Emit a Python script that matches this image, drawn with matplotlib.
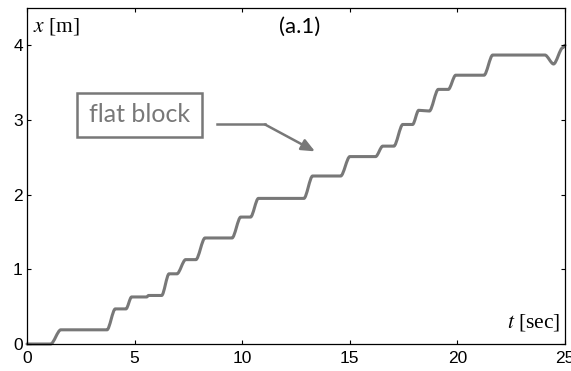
import matplotlib
matplotlib.use("Agg")
import matplotlib.pyplot as plt
from matplotlib.patches import Rectangle, PathPatch
from matplotlib.path import Path

# --- data (t in sec, x in m) ---
t_pts = [0, 1.1, 1.57, 3.72, 4.1, 4.6, 4.86, 5.56, 5.65, 6.26, 6.6, 6.97, 7.37,
         7.85, 8.27, 9.53, 9.93, 10.39, 10.75, 12.87, 13.27, 14.58, 15.0, 16.2,
         16.53, 17.05, 17.46, 17.92, 18.2, 18.7, 19.11, 19.58, 19.92, 21.24,
         21.64, 24.07, 24.47, 24.9, 25.0]
x_pts = [0, 0, 0.19, 0.19, 0.47, 0.47, 0.63, 0.63, 0.65, 0.65, 0.94, 0.94, 1.13,
         1.13, 1.42, 1.42, 1.70, 1.70, 1.95, 1.95, 2.25, 2.25, 2.51, 2.51,
         2.65, 2.65, 2.94, 2.94, 3.13, 3.12, 3.41, 3.41, 3.60, 3.60,
         3.87, 3.87, 3.75, 3.97, 4.0]

xticks = [0, 5, 10, 15, 20, 25]
yticks = [0, 1, 2, 3, 4]

grey = "#787878"

fig = plt.figure(figsize=(5.71, 3.71), dpi=100)
ax = fig.add_axes([27/571, 27/371, 538/571, 336/371])

# draw the trajectory as smooth steps (cubic bezier between points,
# flat tangents at every point -> rounded corners)
verts = [(t_pts[0], x_pts[0])]
codes = [Path.MOVETO]
for i in range(1, len(t_pts)):
    t0, x0 = t_pts[i-1], x_pts[i-1]
    t1, x1 = t_pts[i], x_pts[i]
    d = 0.3 * (t1 - t0)
    verts += [(t0 + d, x0), (t1 - d, x1), (t1, x1)]
    codes += [Path.CURVE4] * 3
ax.add_patch(PathPatch(Path(verts, codes), fill=False, ec=grey, lw=2.2,
                       joinstyle="round", capstyle="round", clip_on=False))

ax.set_xlim(0, 25)
ax.set_ylim(0, 4.5)
ax.set_xticks(xticks)
ax.set_yticks(yticks)
ax.tick_params(direction="in", length=3, top=True, right=True, labelsize=12.5)
ax.tick_params(axis="x", pad=5)
ax.tick_params(axis="y", pad=3)
for lab in ax.get_xticklabels() + ax.get_yticklabels():
    lab.set_family("Liberation Sans")
for s in ax.spines.values():
    s.set_linewidth(0.9)

# axis labels inside the box
ax.text(0.011, 0.975, r"$x$ [m]", transform=ax.transAxes, ha="left", va="top",
        fontsize=15.5, family="Liberation Serif", math_fontfamily="stix")
ax.text(0.992, 0.05, r"$t$ [sec]", transform=ax.transAxes, ha="right",
        va="baseline", fontsize=15.5, family="Liberation Serif",
        math_fontfamily="stix")
ax.text(0.506, 0.945, "(a.1)", transform=ax.transAxes, ha="center",
        va="center", fontsize=16, family="Lato")

# annotation box + arrow
ax.add_patch(Rectangle((2.32, 2.77), 5.81, 0.59, fc="white", ec=grey, lw=1.8,
                       zorder=3))
ax.text(5.23, 3.07, "flat block", ha="center", va="center", fontsize=18,
        color=grey, family="Lato", zorder=4)
ax.plot([8.83, 11.06], [2.94, 2.94], color=grey, lw=1.8)
ax.annotate("", xy=(13.38, 2.58), xytext=(11.06, 2.94),
            arrowprops=dict(arrowstyle="-|>,head_length=0.8,head_width=0.35",
                            color=grey, lw=1.8, shrinkA=0, shrinkB=0))

fig.savefig("out.png", dpi=100)
